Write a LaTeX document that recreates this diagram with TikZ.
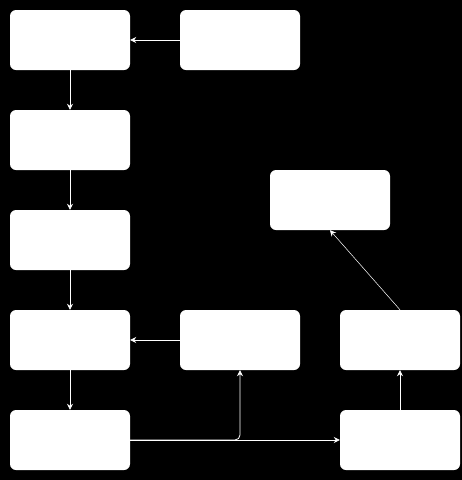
\documentclass[tikz,border=0pt]{standalone}
\usetikzlibrary{arrows.meta}

\begin{document}
\begin{tikzpicture}[x=1pt, y=-1pt,
    box/.style={fill=white, rounded corners=6pt, minimum width=120pt, minimum height=60pt, inner sep=0pt},
    link/.style={draw=white, line width=0.8pt, -{Stealth[length=6pt, width=6pt, inset=2pt]}}]

% background
\fill[black] (0,0) rectangle (462,480);

% boxes
\node[box] (top)   at (70,40)   {};
\node[box] (src)   at (240,40)  {};
\node[box] (stepb) at (70,140)  {};
\node[box] (stepc) at (70,240)  {};
\node[box] (stepd) at (70,340)  {};
\node[box] (side)  at (240,340) {};
\node[box] (stepe) at (70,440)  {};
\node[box] (right) at (400,440) {};
\node[box] (upper) at (400,340) {};
\node[box] (final) at (330,200) {};

% connectors
\draw[link] (src) -- (top);
\draw[link] (top) -- (stepb);
\draw[link] (stepb) -- (stepc);
\draw[link] (stepc) -- (stepd);
\draw[link] (side) -- (stepd);
\draw[link] (stepd) -- (stepe);
\draw[link] (stepe) -- (right);
\draw[link, rounded corners=5pt] (stepe.east) -| (side.south);
\draw[link] (right) -- (upper);
\draw[link, line width=0.5pt] (upper.north) -- (final.south);

\end{tikzpicture}
\end{document}
